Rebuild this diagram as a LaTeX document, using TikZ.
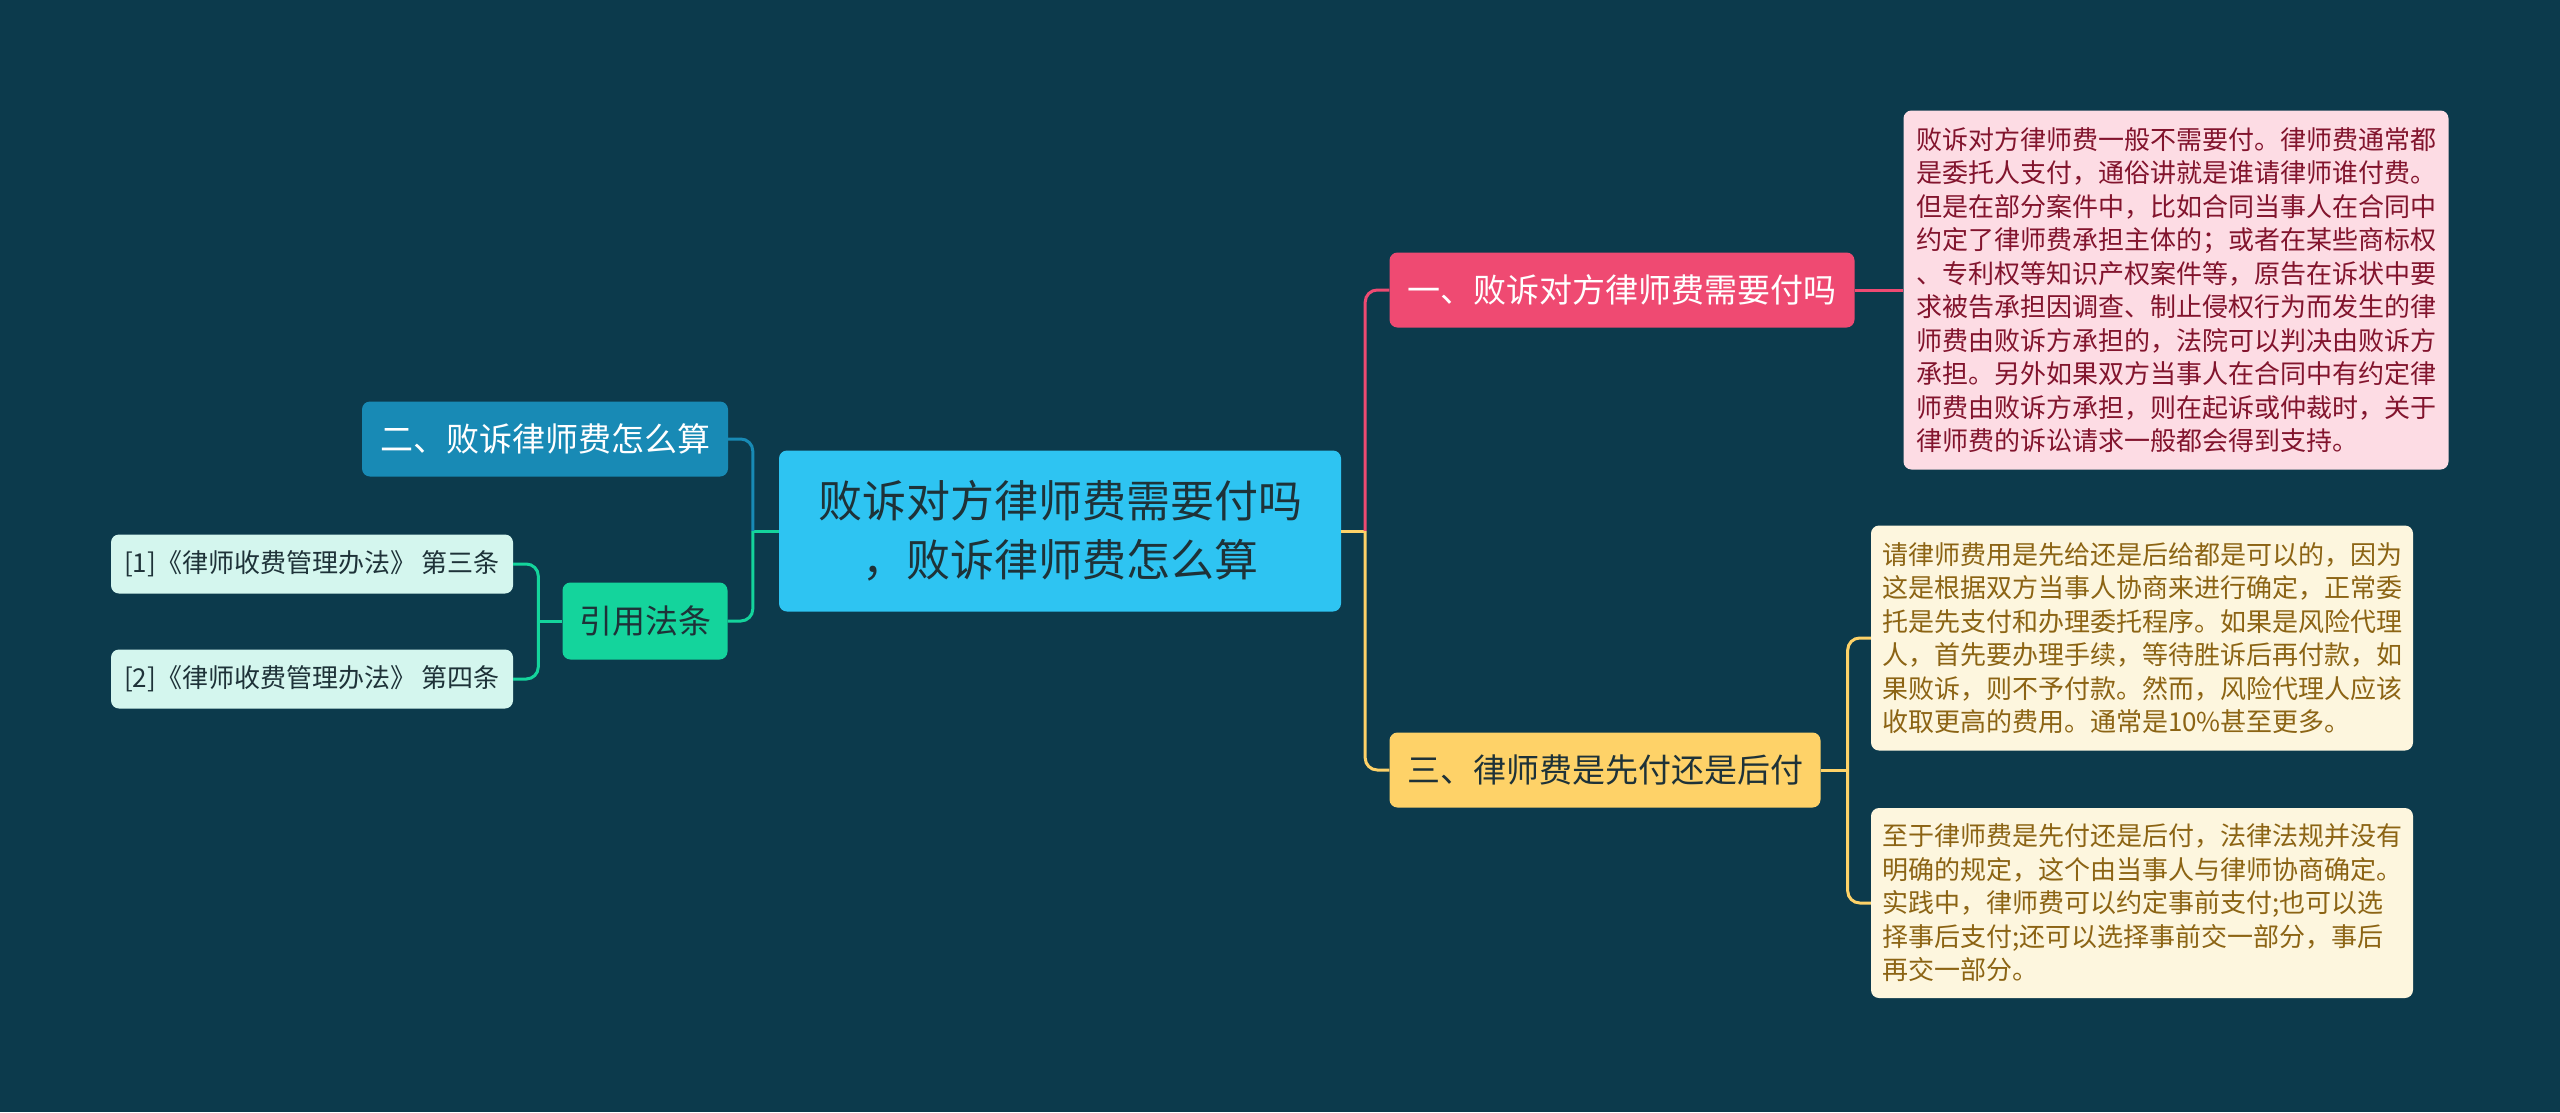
\documentclass[tikz,border=0pt]{standalone}
\usepackage{fontspec}
\setmainfont{Noto Sans CJK SC}

\definecolor{mapBgColor}{RGB}{12,58,76}
\definecolor{mapRootColor}{RGB}{46,196,242}
\definecolor{mapRedColor}{RGB}{239,74,114}
\definecolor{mapYellowColor}{RGB}{254,210,104}
\definecolor{mapBlueColor}{RGB}{24,138,181}
\definecolor{mapGreenColor}{RGB}{20,212,156}
\definecolor{mapMintColor}{RGB}{212,246,238}
\definecolor{mapPinkNoteColor}{RGB}{253,220,228}
\definecolor{mapPinkTextColor}{RGB}{130,20,45}
\definecolor{mapCreamNoteColor}{RGB}{253,246,222}
\definecolor{mapCreamTextColor}{RGB}{140,100,20}
\definecolor{mapDarkTextColor}{RGB}{30,50,56}

\begin{document}
\begin{tikzpicture}[x=1pt,y=-1pt]
            \tikzset{box/.style={rounded corners=8pt, align=center, inner sep=0pt},
                     topic/.style={box, minimum height=75pt, font=\fontsize{33}{40}\selectfont},
                     leaf/.style={box, fill=mapMintColor, text=mapDarkTextColor, minimum width=402pt, minimum height=59pt, font=\fontsize{26}{30}\selectfont},
                     note/.style={box, align=left, font=\fontsize{26}{33.5}\selectfont},
                     link/.style={line width=3pt}}

            \fill[mapBgColor] (0,0) rectangle (2560,1112);
            \useasboundingbox (0,0) rectangle (2560,1112);

            % centre
            \node[box, fill=mapRootColor, text=mapDarkTextColor, minimum width=562pt, minimum height=161pt,
                  font=\fontsize{44}{59}\selectfont] (root) at (1060,531)
                {败诉对方律师费需要付吗\\，败诉律师费怎么算};

            % right side
            \node[topic, fill=mapRedColor, text=white, minimum width=465pt] (first) at (1622,290)
                {一、败诉对方律师费需要付吗};
            \node[topic, fill=mapYellowColor, text=mapDarkTextColor, minimum width=431pt] (third) at (1605,770)
                {三、律师费是先付还是后付};

            \node[note, fill=mapPinkNoteColor, text=mapPinkTextColor, minimum width=545pt, minimum height=359pt] (firstNote) at (2176,290)
                {败诉对方律师费一般不需要付。律师费通常都\\
                 是委托人支付，通俗讲就是谁请律师谁付费。\\
                 但是在部分案件中，比如合同当事人在合同中\\
                 约定了律师费承担主体的；或者在某些商标权\\
                 、专利权等知识产权案件等，原告在诉状中要\\
                 求被告承担因调查、制止侵权行为而发生的律\\
                 师费由败诉方承担的，法院可以判决由败诉方\\
                 承担。另外如果双方当事人在合同中有约定律\\
                 师费由败诉方承担，则在起诉或仲裁时，关于\\
                 律师费的诉讼请求一般都会得到支持。};

            \node[note, fill=mapCreamNoteColor, text=mapCreamTextColor, minimum width=542pt, minimum height=225pt] (thirdNoteA) at (2142,638)
                {请律师费用是先给还是后给都是可以的，因为\\
                 这是根据双方当事人协商来进行确定，正常委\\
                 托是先支付和办理委托程序。如果是风险代理\\
                 人，首先要办理手续，等待胜诉后再付款，如\\
                 果败诉，则不予付款。然而，风险代理人应该\\
                 收取更高的费用。通常是10\%甚至更多。};

            \node[note, fill=mapCreamNoteColor, text=mapCreamTextColor, minimum width=542pt, minimum height=190pt] (thirdNoteB) at (2142,903)
                {至于律师费是先付还是后付，法律法规并没有\\
                 明确的规定，这个由当事人与律师协商确定。\\
                 实践中，律师费可以约定事前支付;也可以选\\
                 择事后支付;还可以选择事前交一部分，事后\\
                 再交一部分。};

            % left side
            \node[topic, fill=mapBlueColor, text=white, minimum width=366pt] (second) at (545,439)
                {二、败诉律师费怎么算};
            \node[topic, fill=mapGreenColor, text=mapDarkTextColor, minimum width=165pt, minimum height=77pt] (cite) at (645,621)
                {引用法条};
            \node[leaf] (citeOne) at (312,564) {[1]《律师收费管理办法》 第三条};
            \node[leaf] (citeTwo) at (312,679) {[2]《律师收费管理办法》 第四条};

            % junctions
            \coordinate (rootRight) at ([xshift=24pt]root.east);
            \coordinate (rootLeft) at ([xshift=-26pt]root.west);
            \coordinate (thirdRight) at ([xshift=27pt]third.east);
            \coordinate (citeLeft) at ([xshift=-24pt]cite.west);

            % connectors
            \draw[link, mapYellowColor] (root.east) -- (rootRight);
            \draw[link, mapRedColor, rounded corners=12pt] (rootRight) |- (first.west);
            \draw[link, mapYellowColor, rounded corners=12pt] (rootRight) |- (third.west);
            \draw[link, mapRedColor] (first.east) -- (firstNote.west);
            \draw[link, mapYellowColor] (third.east) -- (thirdRight);
            \draw[link, mapYellowColor, rounded corners=12pt] (thirdRight) |- (thirdNoteA.west);
            \draw[link, mapYellowColor, rounded corners=12pt] (thirdRight) |- (thirdNoteB.west);

            \draw[link, mapGreenColor] (root.west) -- (rootLeft);
            \draw[link, mapBlueColor, rounded corners=12pt] (rootLeft) |- (second.east);
            \draw[link, mapGreenColor, rounded corners=12pt] (rootLeft) |- (cite.east);
            \draw[link, mapGreenColor] (cite.west) -- (citeLeft);
            \draw[link, mapGreenColor, rounded corners=12pt] (citeLeft) |- (citeOne.east);
            \draw[link, mapGreenColor, rounded corners=12pt] (citeLeft) |- (citeTwo.east);
        \end{tikzpicture}
\end{document}
